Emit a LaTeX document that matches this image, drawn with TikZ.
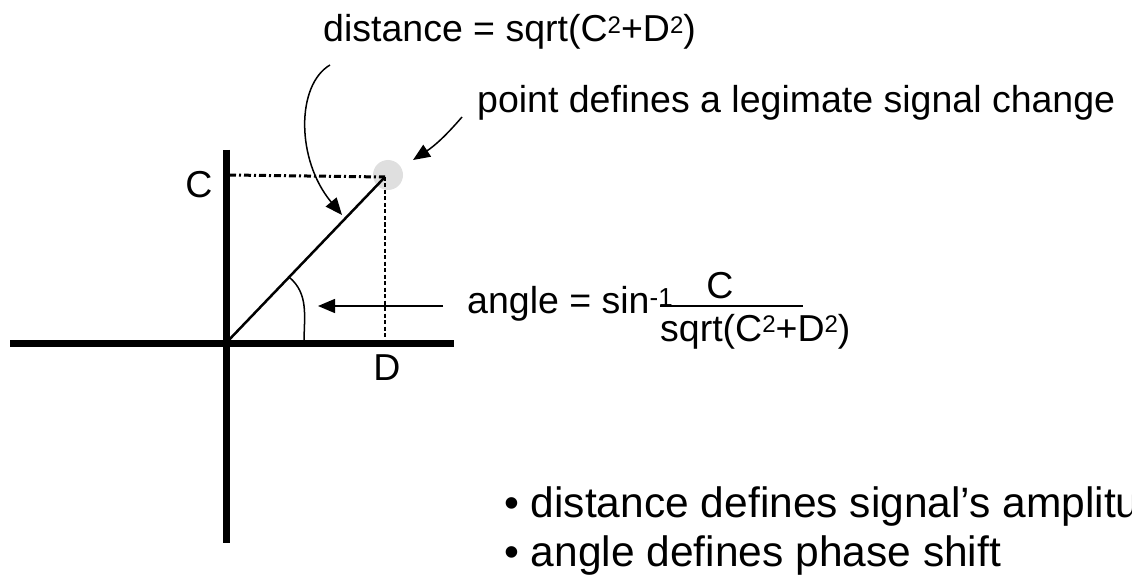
\documentclass[tikz,border=0pt]{standalone}
\usepackage{fontspec}
\setmainfont{Liberation Sans}
\usetikzlibrary{arrows.meta}
\newcommand\supx[1]{\raisebox{8.5pt}{\fontsize{24}{24}\selectfont #1}}
\begin{document}
\begin{tikzpicture}[x=1pt,y=-1pt,
  lbl/.style={inner sep=0pt, font=\fontsize{37.5}{40}\selectfont},
  big/.style={inner sep=0pt, font=\fontsize{42.5}{46}\selectfont},
  axis/.style={line width=7pt},
  callout/.style={line width=1.5pt, -{Triangle[length=17pt,width=14pt]}},
]
\useasboundingbox (0,0) rectangle (1132,580);
\clip (0,0) rectangle (1132,580);
% key points
\coordinate (O) at (226,343);
\coordinate (P) at (385,177);
\coordinate (Xl) at (10,343);
\coordinate (Xr) at (454,343);
\coordinate (Yt) at (226,150);
\coordinate (Yb) at (226,543);
\coordinate (Cy) at (229,175);
\coordinate (Dx) at (385,343);
% highlight of the point
\fill[gray!25] (388,175) circle (15);
% axes
\draw[axis] (Xl) -- (Xr);
\draw[axis] (Yt) -- (Yb);
% projections
\draw[line width=3pt, dash pattern=on 7pt off 3pt on 2pt off 3pt] (Cy) -- (P);
\draw[line width=1.5pt, dash pattern=on 4pt off 2.5pt] (P) -- (Dx);
% vector
\draw[line width=2.5pt] (O) -- (P);
% angle mark
\coordinate (A1) at (289,277);
\coordinate (A2) at (304,343);
\draw[line width=1.5pt] (A1) to[out=-40,in=90] (A2);
% labels
\node[lbl, anchor=base] (Clbl) at (199,197) {C};
\node[lbl, anchor=base] (Dlbl) at (387,380) {D};
\node[lbl, anchor=base west] (dist) at (323,42) {distance = sqrt(C\supx{2}+D\supx{2})};
\node[lbl, anchor=base west] (pt) at (477,113) {point defines a legimate signal change};
\node[lbl, anchor=base west] (ang) at (467,313) {angle = sin\raisebox{7pt}{\fontsize{26}{26}\selectfont -1}};
\node[lbl, anchor=base] (num) at (720,298) {C};
\coordinate (barL) at (660,306);
\coordinate (barR) at (803,306);
\draw[line width=2pt] (barL) -- (barR);
\node[lbl, anchor=base west] (den) at (660,341) {sqrt(C\supx{2}+D\supx{2})};
\node[big, anchor=base west] (b1) at (504,517) {\textbullet\ distance defines signal's amplitude};
\node[big, anchor=base west] (b2) at (504,566) {\textbullet\ angle defines phase shift};
% callout arrows
\coordinate (distT) at (330,65);
\coordinate (distH) at (342,215);
\draw[callout] (distT) .. controls (296,85) and (296,160) .. (distH);
\coordinate (ptT) at (462,117);
\coordinate (ptH) at (413,160);
\draw[callout] (ptT) to[bend left=8] (ptH);
\coordinate (angT) at (443,306);
\coordinate (angH) at (318,306);
\draw[callout] (angT) -- (angH);
\end{tikzpicture}
\end{document}
